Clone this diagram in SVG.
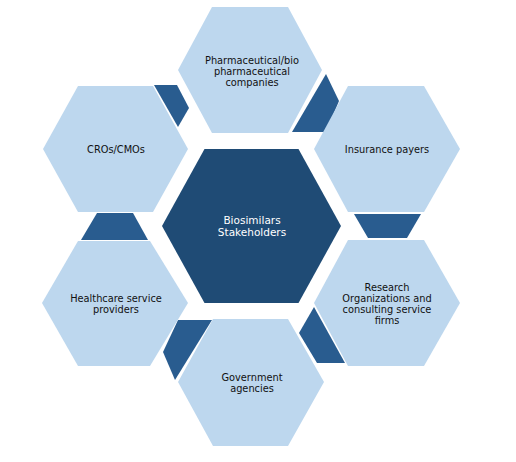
<svg xmlns="http://www.w3.org/2000/svg" width="516" height="462" viewBox="0 0 516 462">
<style>
.hex{fill:#BDD7EE;}
.ctr{fill:#1F4B75;}
.con{fill:#295C8F;}
text{font-family:"DejaVu Sans",Verdana,sans-serif;font-size:9.8px;fill:#111;text-anchor:middle;dominant-baseline:central;}
.wt{fill:#fff;font-size:10.5px;}
</style>
<rect width="516" height="462" fill="#fff"/>
<g id="connectors">
<polygon class="con" points="154,85 177,85 189,108 178,127"/>
<polygon class="con" points="326,74 339,101 326,132 292,132"/>
<polygon class="con" points="354,214 421,214 407,238 368,238"/>
<polygon class="con" points="314,307 299,333 317,363 345,363"/>
<polygon class="con" points="178,320 212,320 175,380 163,352"/>
<polygon class="con" points="97,213 133,213 148,240 81,240"/>
</g>
<g id="center">
<polygon class="ctr" points="162,226 204.5,149 298.5,149 341,226 298.5,303 204.5,303"/>
<text class="wt" x="252" y="220">Biosimilars</text>
<text class="wt" x="252" y="232">Stakeholders</text>
</g>
<g id="pharma">
<polygon class="hex" points="178,70 212,7 288,7 322,70 288,133 212,133"/>
<text x="252" y="60">Pharmaceutical/bio</text>
<text x="252" y="71">pharmaceutical</text>
<text x="252" y="82">companies</text>
</g>
<g id="insurance">
<polygon class="hex" points="314,149 348,86 424,86 460,149 424,212 348,212"/>
<text x="387" y="149">Insurance payers</text>
</g>
<g id="research">
<polygon class="hex" points="314,303 348,240 424,240 460,303 424,366 348,366"/>
<text x="387" y="287">Research</text>
<text x="387" y="298">Organizations and</text>
<text x="387" y="309">consulting service</text>
<text x="387" y="320">firms</text>
</g>
<g id="government">
<polygon class="hex" points="178,382 213,319 288,319 324,382 288,446 213,446"/>
<text x="252" y="377">Government</text>
<text x="252" y="388">agencies</text>
</g>
<g id="healthcare">
<polygon class="hex" points="42,303 78,241 150,241 188,303 150,366 78,366"/>
<text x="116" y="298">Healthcare service</text>
<text x="116" y="309">providers</text>
</g>
<g id="cros">
<polygon class="hex" points="43,149 78,86 153,86 188,149 153,212 78,212"/>
<text x="116" y="149">CROs/CMOs</text>
</g>
</svg>
